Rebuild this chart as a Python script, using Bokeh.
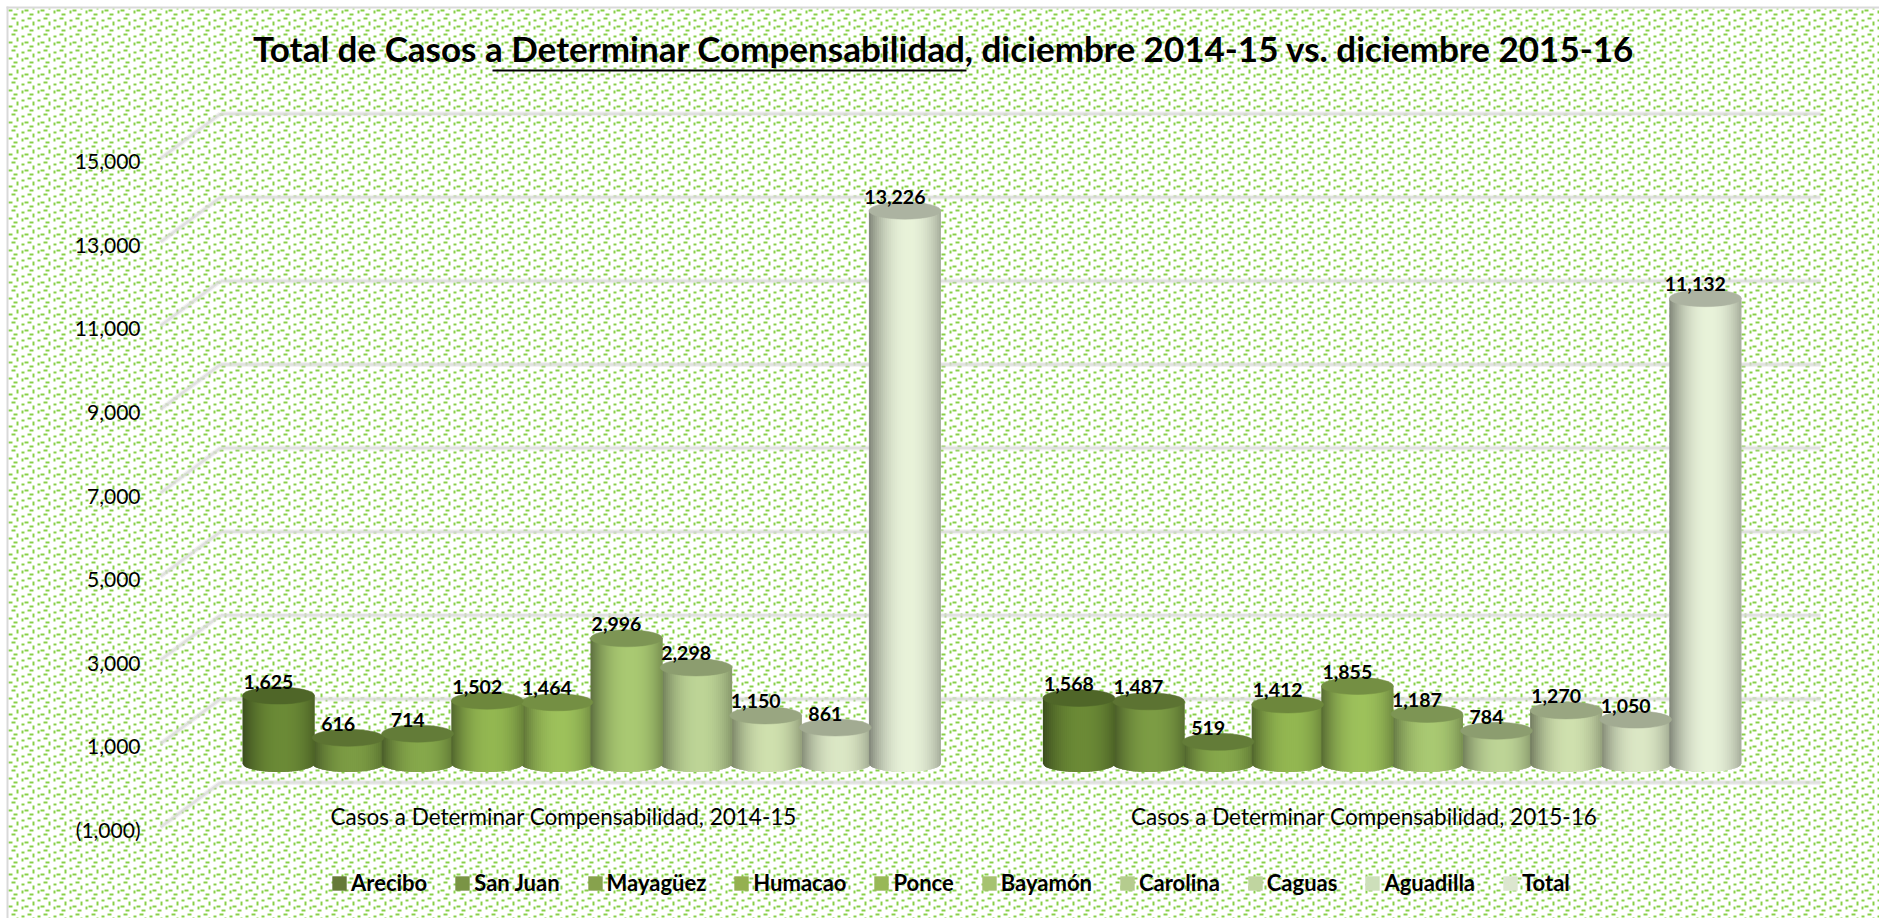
import numpy as np
from bokeh.plotting import figure
from bokeh.models import (Range1d, LinearAxis, FixedTicker, NumeralTickFormatter, Legend, LegendItem, Label)
from bokeh.core.properties import value
from bokeh.embed import file_html
from bokeh.resources import INLINE

TITLE = "Total de Casos a Determinar Compensabilidad, diciembre 2014-15  vs.  diciembre 2015-16"
PERIODS = ["Casos a Determinar Compensabilidad, 2014-15", "Casos a Determinar Compensabilidad, 2015-16"]
REGIONS = ["Arecibo", "San Juan", "Mayagüez", "Humacao", "Ponce", "Bayamón", "Carolina", "Caguas", "Aguadilla", "Total"]
VALUES_2014 = [1625, 616, 714, 1502, 1464, 2996, 2298, 1150, 861, 13226]
VALUES_2015 = [1568, 1487, 519, 1412, 1855, 1187, 784, 1270, 1050, 11132]
Y_TICKS = [-1000, 1000, 3000, 5000, 7000, 9000, 11000, 13000, 15000]
SWATCH = ["#667a38", "#7a9445", "#87a24d", "#94b050", "#98b857", "#a6c270", "#b5cc8e", "#c0d5a0", "#cddfba", "#dce6cf"]
BODY = ["#6b8a36", "#7c9c44", "#86a84b", "#93b751", "#9dc15b", "#a9c972", "#bdd496", "#cfe0ae", "#dbe7c5", "#e8f2d9"]

W, H = 1879, 918
PX_PER_UNIT = 0.0418      # px per case
Y0_PAGE = 763.0           # page y of zero at bar depth
X0_PAGE = 278.0           # page x of first bar centre
SLOT = 69.6               # px per bar slot
GROUP_STEP = 11.5         # slots between the two groups
BAR_W = 72 / SLOT


def xd(px):
    return (px - X0_PAGE) / SLOT


def yd(py):
    return (Y0_PAGE - py) / PX_PER_UNIT


p = figure(width=W, height=H, output_backend="svg", toolbar_location=None,
           x_range=Range1d(xd(0), xd(W)), y_range=Range1d(yd(H), yd(0)),
           min_border=0, min_border_left=0, min_border_right=0, min_border_top=0, min_border_bottom=0,
           x_axis_location=None, y_axis_location=None, outline_line_color=None)
p.grid.visible = False
p.background_fill_color = "white"
p.border_fill_color = "white"

# dotted page background, one 16 px tile repeated
tile = np.zeros((16, 16), dtype=bool)
for x, y, w, h in [(5, 3, 3, 2), (11, 1, 4, 2), (0, 5, 2, 4), (5, 10, 2, 3), (8, 9, 4, 2), (13, 13, 3, 2), (0, 13, 1, 2)]:
    tile[y:y + h, x:x + w] = True
mask = np.tile(tile, (H // 16 + 1, W // 16 + 1))[:H, :W]
mask[:8, :] = False
mask[:, :8] = False
img = np.where(mask, 0xFF48D088, 0x00FFFFFF).astype(np.uint32)[::-1]
p.image_rgba(image=[img], x=xd(0), y=yd(H), dw=xd(W) - xd(0), dh=yd(0) - yd(H))

# frame edges (top, left)
p.segment(x0=[xd(6), xd(7)], y0=[yd(7), yd(6)], x1=[xd(W), xd(7)], y1=[yd(7), yd(H)],
          line_color="#d9d9d9", line_width=2)

# 3D floor/walls
BACK = 545
FRONT = -526
X_FRONT, X_BACK, X_END = xd(160), xd(220), xd(1820)
for lw, alpha in [(5, 0.35), (2.5, 0.75)]:
    p.segment(x0=[X_BACK] * len(Y_TICKS), x1=[X_END] * len(Y_TICKS),
              y0=[v + BACK for v in Y_TICKS], y1=[v + BACK for v in Y_TICKS],
              line_color="#dadada", line_width=lw, line_alpha=alpha)
    p.segment(x0=[X_FRONT] * len(Y_TICKS), x1=[X_BACK] * len(Y_TICKS),
              y0=[v + FRONT for v in Y_TICKS], y1=[v + BACK for v in Y_TICKS],
              line_color="#dadada", line_width=lw, line_alpha=alpha)


def scale(hexc, f):
    r, g, b = [int(hexc[i:i + 2], 16) for i in (1, 3, 5)]
    c = [min(255, int(round(v * f))) for v in (r, g, b)]
    return "#%02x%02x%02x" % tuple(c)


ELL = 8.5 / PX_PER_UNIT   # ellipse half height in data units
STRIPS = 36

xs, ys, cs = [], [], []
tx, ty, tc = [], [], []
lx, ly, lt = [], [], []

for g, vals in enumerate([VALUES_2014, VALUES_2015]):
    order = sorted(range(len(vals)), key=lambda i: vals[i])
    for i in order:
        v = vals[i]
        c = g * GROUP_STEP + i
        hw = BAR_W / 2
        step = 2 / STRIPS
        for s in range(STRIPS):
            a = -1 + s * step
            b = min(1.0, a + 2 * step)       # overlap the next strip so no seams show
            m = a + step / 2
            u = abs(m - 0.1) / 1.1
            f = 0.55 + 0.45 * (1 - u ** 2.2)
            arc = [a + (b - a) * k / 4 for k in range(5)]
            bx = [c + hw * t for t in arc]
            by = [-ELL * (max(0.0, 1 - t * t)) ** 0.5 for t in arc]
            xs.append([c + hw * a] + bx + [c + hw * b])
            ys.append([v] + by + [v])
            cs.append(scale(BODY[i], f))
        tx.append(c); ty.append(v); tc.append(scale(BODY[i], 0.74))
        lx.append(c - 10 / SLOT); ly.append(v + 14 / PX_PER_UNIT); lt.append(f"{v:,}")

p.patches(xs=xs, ys=ys, fill_color=cs, line_color=None)
p.ellipse(x=tx, y=ty, width=BAR_W, height=2 * ELL, fill_color=tc, line_color=tc, line_width=0.5)
p.text(x=lx, y=ly, text=lt, text_font=value("Lato"), text_font_style="bold", text_font_size="19.5px",
       text_color="#000000", text_align="center", text_baseline="middle")

# value axis (front plane)
FRONT_SHIFT = 24.2 / PX_PER_UNIT
p.extra_y_ranges["front"] = Range1d(p.y_range.start + FRONT_SHIFT, p.y_range.end + FRONT_SHIFT)
ya = LinearAxis(y_range_name="front", ticker=FixedTicker(ticks=Y_TICKS), formatter=NumeralTickFormatter(format="(0,0)"),
                fixed_location=xd(140), axis_line_color=None, major_tick_line_color=None, minor_tick_line_color=None,
                major_tick_out=0, major_tick_in=0,
                major_label_text_font="Lato", major_label_text_font_size="21px", major_label_text_color="#000000",
                major_label_standoff=0)
p.add_layout(ya, "left")

# category axis
CAT_SHIFT = 28 / SLOT
xa = LinearAxis(ticker=FixedTicker(ticks=[4.5 - CAT_SHIFT, GROUP_STEP + 4.5 - CAT_SHIFT]),
                major_label_overrides={4.5 - CAT_SHIFT: PERIODS[0], GROUP_STEP + 4.5 - CAT_SHIFT: PERIODS[1]},
                fixed_location=yd(802), axis_line_color=None, major_tick_line_color=None, minor_tick_line_color=None,
                major_tick_out=0, major_tick_in=0,
                major_label_text_font="Lato", major_label_text_font_size="22.5px", major_label_text_color="#000000",
                major_label_standoff=0)
p.add_layout(xa, "below")

# title + underline
p.add_layout(Label(x=xd(952), y=yd(47), text=TITLE, text_font="Lato", text_font_style="bold", text_font_size="35px",
                   text_color="#000000", text_align="center", text_baseline="middle"))
p.segment(x0=[xd(492)], x1=[xd(966)], y0=[yd(70)], y1=[yd(70)], line_color="#000000", line_width=2)

# legend
items = []
for name, col in zip(REGIONS, SWATCH):
    r = p.quad(left=[float("nan")], right=[float("nan")], bottom=[float("nan")], top=[float("nan")],
               fill_color=col, line_color=None)
    items.append(LegendItem(label=value(name), renderers=[r]))
leg = Legend(items=items, orientation="horizontal", location=(326, 18), spacing=26,
             glyph_width=18, glyph_height=18, label_standoff=3, label_text_font="Lato", label_text_font_style="bold",
             label_text_font_size="22px", label_text_color="#000000", background_fill_alpha=0, border_line_alpha=0,
             padding=4, margin=0, label_height=22)
p.add_layout(leg, "center")

open("out.html", "w").write(file_html(p, INLINE))
